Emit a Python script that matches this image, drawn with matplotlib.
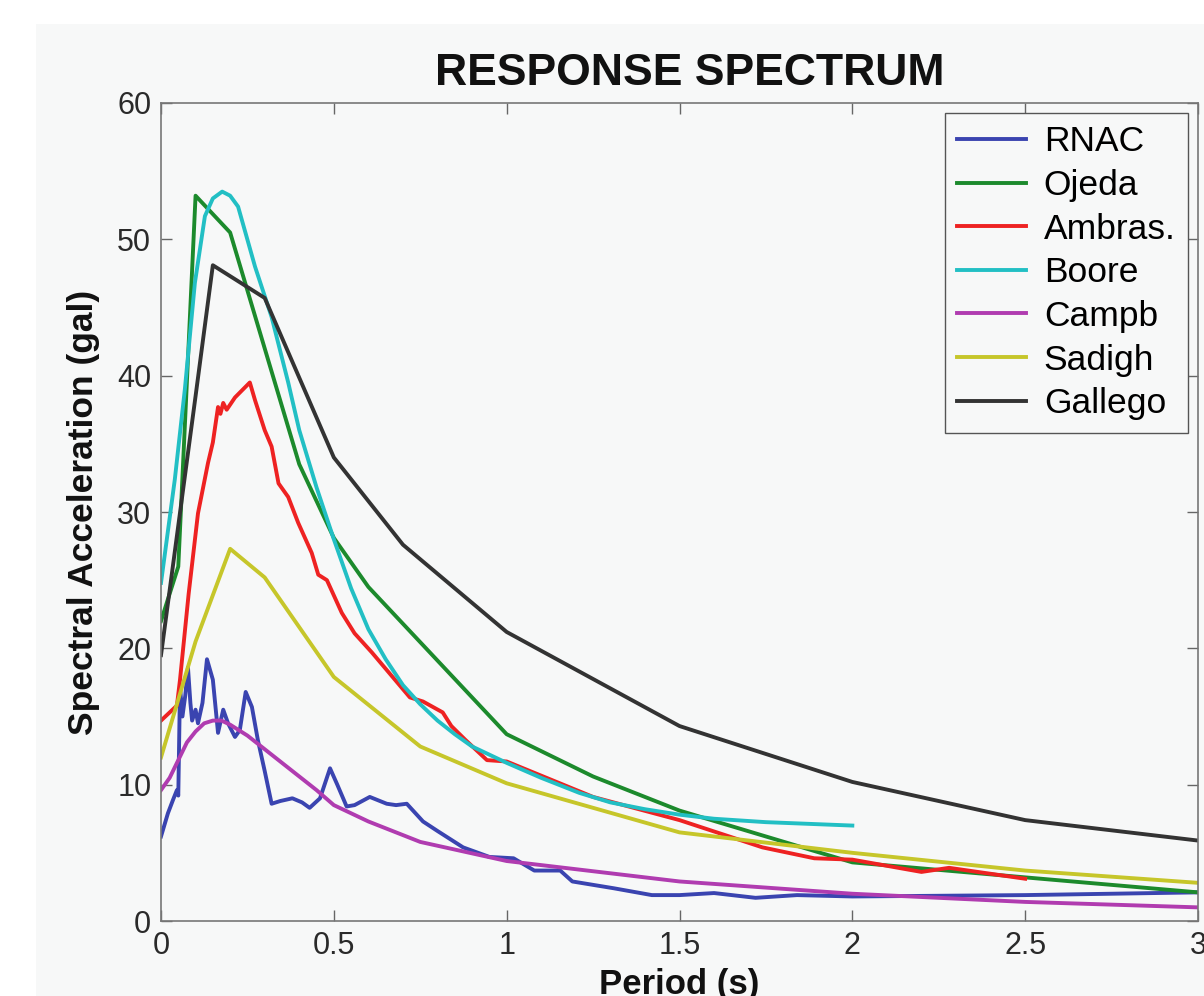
import matplotlib
matplotlib.use("Agg")
import matplotlib.pyplot as plt
from matplotlib.patches import Rectangle

# ---------------- data ----------------
rnac_t = [0, 0.02, 0.035, 0.046, 0.05, 0.055, 0.062, 0.07, 0.078, 0.085, 0.09, 0.1, 0.107,
          0.12, 0.133, 0.15, 0.165, 0.18, 0.194, 0.214, 0.228, 0.245, 0.263, 0.28, 0.3, 0.32,
          0.345, 0.38, 0.408, 0.43, 0.46, 0.489, 0.51, 0.537, 0.56, 0.604, 0.653, 0.68, 0.711,
          0.758, 0.8, 0.874, 0.95, 1.02, 1.08, 1.155, 1.19, 1.31, 1.42, 1.5, 1.6, 1.72, 1.84,
          2.0, 2.5, 3.0]
rnac_v = [6.2, 7.9, 8.9, 9.6, 9.2, 17.2, 15.0, 16.5, 18.6, 16.0, 14.7, 15.5, 14.5,
          16.0, 19.2, 17.7, 13.8, 15.5, 14.5, 13.5, 14.0, 16.8, 15.7, 13.3, 11.0, 8.6,
          8.8, 9.0, 8.7, 8.3, 9.0, 11.2, 10.0, 8.4, 8.5, 9.1, 8.6, 8.5, 8.6,
          7.3, 6.6, 5.4, 4.7, 4.6, 3.7, 3.7, 2.9, 2.4, 1.9, 1.9, 2.05, 1.7, 1.9,
          1.8, 1.9, 2.1]

ojeda_t = [0, 0.05, 0.1, 0.2, 0.4, 0.5, 0.6, 1.0, 1.25, 1.5, 2.0, 2.5, 3.0]
ojeda_v = [22.0, 26.0, 53.2, 50.5, 33.5, 28.1, 24.5, 13.7, 10.6, 8.1, 4.3, 3.2, 2.1]

ambras_t = [0, 0.046, 0.055, 0.08, 0.107, 0.136, 0.15, 0.165, 0.172, 0.18, 0.19, 0.214,
            0.257, 0.272, 0.3, 0.32, 0.34, 0.368, 0.397, 0.436, 0.455, 0.48, 0.523, 0.56,
            0.61, 0.72, 0.758, 0.815, 0.84, 0.88, 0.943, 1.0, 1.25, 1.5, 1.74, 1.89, 2.0,
            2.2, 2.28, 2.5]
ambras_v = [14.7, 15.8, 17.7, 24.0, 29.9, 33.6, 35.1, 37.7, 37.2, 38.0, 37.5, 38.4,
            39.5, 38.2, 36.0, 34.8, 32.1, 31.1, 29.2, 27.0, 25.4, 25.0, 22.6, 21.1,
            19.7, 16.4, 16.1, 15.3, 14.3, 13.3, 11.8, 11.7, 9.1, 7.4, 5.4, 4.6, 4.5,
            3.6, 3.9, 3.1]

boore_t = [0, 0.04, 0.069, 0.098, 0.127, 0.15, 0.177, 0.2, 0.223, 0.272, 0.32, 0.368,
           0.4, 0.45, 0.5, 0.55, 0.6, 0.65, 0.7, 0.75, 0.8, 0.85, 0.9, 1.0, 1.1, 1.21,
           1.3, 1.4, 1.5, 1.6, 1.75, 2.0]
boore_v = [24.8, 32.4, 39.0, 46.8, 51.7, 53.0, 53.5, 53.2, 52.4, 48.0, 44.3, 39.5,
           36.0, 31.8, 28.0, 24.4, 21.4, 19.2, 17.3, 15.9, 14.7, 13.7, 12.8, 11.6, 10.5, 9.4,
           8.7, 8.2, 7.8, 7.5, 7.25, 7.0]

campb_t = [0, 0.025, 0.05, 0.075, 0.1, 0.125, 0.15, 0.175, 0.2, 0.25, 0.3, 0.35, 0.4, 0.45,
           0.5, 0.6, 0.75, 1.0, 1.5, 2.0, 2.5, 3.0]
campb_v = [9.6, 10.5, 11.8, 13.1, 13.9, 14.5, 14.7, 14.7, 14.4, 13.6, 12.6, 11.6, 10.6, 9.6,
           8.5, 7.3, 5.8, 4.4, 2.9, 2.0, 1.4, 1.0]

sadigh_t = [0, 0.1, 0.2, 0.3, 0.5, 0.75, 1.0, 1.5, 2.0, 2.5, 3.0]
sadigh_v = [12.0, 20.5, 27.3, 25.2, 17.9, 12.8, 10.1, 6.5, 5.0, 3.7, 2.8]

gallego_t = [0, 0.05, 0.1, 0.15, 0.3, 0.5, 0.7, 1.0, 1.5, 2.0, 2.5, 3.0]
gallego_v = [19.5, 29.0, 38.5, 48.1, 45.7, 34.0, 27.6, 21.2, 14.3, 10.2, 7.4, 5.9]

series_names = ["RNAC", "Ojeda", "Ambras.", "Boore", "Campb", "Sadigh", "Gallego"]
series_colors = ["#3a44b0", "#1c8a2c", "#ee2222", "#22bfc4", "#b03cb0", "#c6c62a", "#333333"]

x_ticks = [0, 0.5, 1, 1.5, 2, 2.5, 3]
x_ticklabels = ["0", "0.5", "1", "1.5", "2", "2.5", "3"]
y_ticks = [0, 10, 20, 30, 40, 50, 60]

# ---------------- figure ----------------
plt.rcParams['font.family'] = ['Liberation Sans', 'DejaVu Sans']
BG = "#f7f8f8"
fig = plt.figure(figsize=(12.04, 9.96), dpi=100, facecolor="white")
bg_rect = Rectangle((36 / 1204, 0), 1 - 36 / 1204, (996 - 24) / 996,
                    transform=fig.transFigure, facecolor=BG, edgecolor="none", zorder=-10)
fig.add_artist(bg_rect)

ax = fig.add_axes([161 / 1204, (996 - 921) / 996, (1198 - 161) / 1204, (921 - 103) / 996])
ax.set_zorder(5)
ax.set_facecolor(BG)

data = [(rnac_t, rnac_v), (ojeda_t, ojeda_v), (ambras_t, ambras_v), (boore_t, boore_v),
        (campb_t, campb_v), (sadigh_t, sadigh_v), (gallego_t, gallego_v)]
for (t, v), name, col in zip(data, series_names, series_colors):
    ax.plot(t, v, color=col, lw=2.8, label=name, solid_joinstyle="round")

ax.set_xlim(0, 3)
ax.set_ylim(0, 60)
ax.set_xticks(x_ticks)
ax.set_xticklabels(x_ticklabels)
ax.set_yticks(y_ticks)
ax.tick_params(direction="in", length=8, width=1.0, colors="#666666", labelcolor="#2a2a2a",
               labelsize=22, top=True, right=True, pad=7)
for s in ax.spines.values():
    s.set_color("#777777")
    s.set_linewidth(1.2)

ax.set_title("RESPONSE SPECTRUM", fontsize=32, fontweight="bold", pad=13, color="#111111",
             x=0.51)
ax.set_xlabel("Period (s)", fontsize=25, fontweight="bold", labelpad=5, color="#111111")
ax.set_ylabel("Spectral Acceleration (gal)", fontsize=25.5, fontweight="bold", labelpad=12,
              color="#111111")

leg = ax.legend(loc="upper right", bbox_to_anchor=(0.9904, 0.9878), borderaxespad=0,
                fontsize=25.5, fancybox=False, framealpha=1, facecolor=BG, edgecolor="#555555",
                handlelength=1.95, handletextpad=0.5, labelspacing=0.3, borderpad=0.35)
leg.get_frame().set_linewidth(1.0)

fig.savefig("out.png", dpi=100, facecolor=fig.get_facecolor())
